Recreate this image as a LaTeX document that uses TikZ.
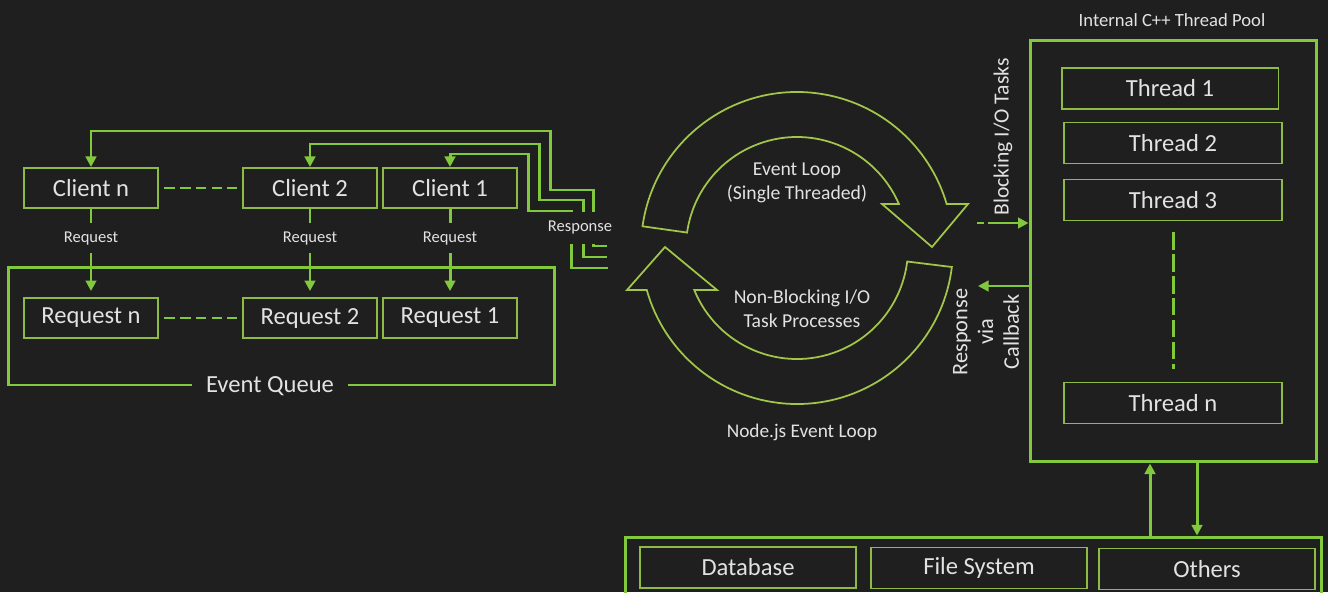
\documentclass[tikz,border=0pt]{standalone}
\usepackage{fontspec}
\setmainfont{Carlito}
\usetikzlibrary{arrows.meta}
\definecolor{bg}{HTML}{1F1F1F}
\definecolor{lime}{HTML}{82C83C}
\definecolor{olive}{HTML}{8DBB45}
\definecolor{loopc}{HTML}{A2C64A}
\definecolor{txt}{HTML}{E2E2E2}

\begin{document}
\begin{tikzpicture}[x=0.02cm, y=0.02cm,
    box/.style={draw=olive, line width=1.1pt, text=txt, minimum width=2.68cm,
        minimum height=0.8cm, font=\fontsize{14}{16}\selectfont},
    frame/.style={draw=lime, line width=1.7pt},
    arr/.style={draw=lime, line width=1.7pt, -{Triangle[length=6pt, width=6pt]}},
    lbl/.style={fill=bg, text=txt, minimum height=17.5pt, inner xsep=2pt,
        font=\fontsize{9.4}{11}\selectfont},
    loopar/.style={draw=loopc, line width=1pt},
    note/.style={text=txt, align=center, font=\fontsize{11.2}{13.6}\selectfont}]
    \fill [bg] (0, 0) rectangle (1328, -592);
    \useasboundingbox (0, 0) rectangle (1328, -592);

    % clients and event queue
    \node [box] (cn) at (91, -188)  {Client n};
    \node [box] (c2) at (310, -188) {Client 2};
    \node [box] (c1) at (450, -188) {Client 1};
    \node [frame, minimum width=10.94cm, minimum height=2.36cm] (eq) at (281.5, -326) {};
    \node [box] (rn) at (91, -318)  {Request n};
    \node [box] (r2) at (310, -318) {Request 2};
    \node [box] (r1) at (450, -318) {Request 1};
    \node [lbl, inner xsep=8pt, font=\fontsize{14}{16}\selectfont] (eql)
        at ([xshift=-0.23cm]eq.south) {Event Queue};

    \draw [frame, dash pattern=on 6pt off 3pt, shorten <=3pt, shorten >=3pt] (cn) -- (c2);
    \draw [frame, dash pattern=on 6pt off 3pt, shorten <=3pt, shorten >=3pt] (rn) -- (r2);

    \draw [arr, shorten >=3.4pt] (cn) -- node [lbl, pos=0.33] {Request} (rn);
    \draw [arr, shorten >=3.4pt] (c2) -- node [lbl, pos=0.33] {Request} (r2);
    \draw [arr, shorten >=3.4pt] (c1) -- node [lbl, pos=0.33] {Request} (r1);

    % responses back to the clients
    \coordinate (e1) at (607, -246);
    \coordinate (e2) at (607, -257);
    \coordinate (e3) at (608, -268);
    \draw [arr] (e1) -| (593, -190) -| (550, -131) -| (cn.north);
    \draw [arr] (e2) -| (583, -200) -| (539, -144) -| (c2.north);
    \draw [arr] (e3) -| (571, -211) -| (528, -154) -| (c1.north);
    \node [lbl, minimum height=18pt] (resp) at (580, -228) {Response};

    % event loop
    \begin{scope}[shift={(797, -248)}]
        \draw [loopar] (172:156) arc [start angle=172, end angle=16.4, radius=156]
            -- (171, 44) -- (135, 1) -- (85, 44) -- (23.4:111)
            arc [start angle=23.4, end angle=172, radius=111] -- cycle;
        \draw [loopar] (-7:156) arc [start angle=-7, end angle=-164.4, radius=156]
            -- (-170, -42) -- (-132, 1) -- (-80, -42) -- (-157.8:111)
            arc [start angle=-157.8, end angle=-7, radius=111] -- cycle;
    \end{scope}
    \node [note] (loop) at (797, -183) {Event Loop\\(Single Threaded)};
    \node [note] (nbio) at (802, -309) {Non-Blocking I/O\\Task Processes};
    \node [note, font=\fontsize{11}{13}\selectfont] (title) at (802, -432) {Node.js Event Loop};

    % thread pool
    \node [text=txt, font=\fontsize{10.6}{12}\selectfont] (ptitle) at (1172, -20) {Internal C++ Thread Pool};
    \node [frame, minimum width=5.74cm, minimum height=8.44cm] (pool) at (1173.5, -251) {};
    \node [box, minimum width=4.34cm, minimum height=0.82cm] (t1) at (1170, -88.5) {Thread 1};
    \node [box, minimum width=4.36cm, minimum height=0.82cm] (t2) at (1173, -143)  {Thread 2};
    \node [box, minimum width=4.36cm, minimum height=0.82cm] (t3) at (1173, -200)  {Thread 3};
    \node [box, minimum width=4.36cm, minimum height=0.82cm] (tn) at (1173, -403)  {Thread n};
    \draw [frame, dash pattern=on 10pt off 2.5pt,
        shorten <=6pt, shorten >=7pt] (t3) -- (tn);

    \coordinate (bt) at (977, -223);
    \coordinate (cb) at (978, -286);
    \draw [arr, dash pattern=on 4pt off 2pt on 100pt off 1pt] (bt) -- (bt -| pool.west);
    \draw [arr] (cb -| pool.west) -- (cb);
    \node [text=txt, rotate=90, font=\fontsize{12.3}{14}\selectfont] (blk) at (1003, -137)
        {Blocking I/O Tasks};
    \node [text=txt, rotate=90, align=center, font=\fontsize{12.7}{14.7}\selectfont] (cbl)
        at (986, -332) {Response\\via\\Callback};

    % external resources
    \node [frame, minimum width=13.94cm, minimum height=1.26cm] (io) at (973.5, -568.5) {};
    \node [box, minimum width=4.32cm, minimum height=0.82cm] (db) at (748, -567.5) {Database};
    \node [box, minimum width=4.32cm, minimum height=0.82cm] (fs) at (979, -568)   {File System};
    \node [box, minimum width=4.32cm, minimum height=0.82cm] (ot) at (1207, -569)  {Others};

    \coordinate (up) at (1150, 0);
    \coordinate (dn) at (1197, 0);
    \draw [arr] (io.north -| up) -- (pool.south -| up);
    \draw [arr] (pool.south -| dn) -- (io.north -| dn);
\end{tikzpicture}
\end{document}
